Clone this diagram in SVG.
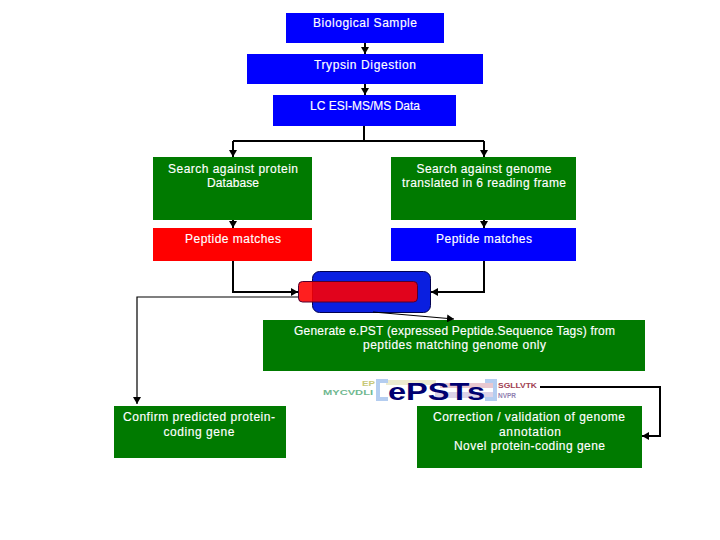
<svg xmlns="http://www.w3.org/2000/svg" width="720" height="540" viewBox="0 0 720 540">
<style>
text{font-family:"Liberation Sans",Arial,sans-serif;font-size:12px;fill:#fff;text-anchor:middle;stroke:#fff;stroke-width:.15}
.b{fill:#0000ff}.g{fill:#007a00}.r{fill:#ff0000}
.c{fill:none;stroke:#000;stroke-width:2}.t{fill:none;stroke:#000;stroke-width:1.2}
.p{font-size:7px;font-weight:bold;text-anchor:start;stroke:none}
</style>
<defs><marker id="a" markerUnits="userSpaceOnUse" markerWidth="8" markerHeight="8" refX="7" refY="4" orient="auto"><path d="M0 0L7 4L0 8z" fill="#000"/></marker></defs>
<rect width="720" height="540" fill="#fff" stroke="none"/>
<g id="n1"><rect class="b" x="286" y="13" width="158" height="30"/><text x="365" y="27" textLength="104">Biological Sample</text></g>
<g id="n2"><rect class="b" x="247" y="54" width="236" height="30"/><text x="365" y="69" textLength="102">Trypsin Digestion</text></g>
<g id="n3"><rect class="b" x="273" y="95" width="183" height="31"/><text x="365" y="110" textLength="110">LC ESI-MS/MS Data</text></g>
<g id="n4"><rect class="g" x="153" y="157" width="159" height="63"/><text x="233" y="173" textLength="130">Search against protein</text><text x="233" y="187" textLength="52">Database</text></g>
<g id="n5"><rect class="g" x="391" y="157" width="185" height="63"/><text x="484" y="173" textLength="135">Search against genome</text><text x="484" y="187" textLength="164">translated in 6 reading frame</text></g>
<g id="n6"><rect class="r" x="153" y="228" width="159" height="33"/><text x="233" y="243" textLength="96">Peptide matches</text></g>
<g id="n7"><rect class="b" x="391" y="228" width="185" height="33"/><text x="484" y="243" textLength="96">Peptide matches</text></g>
<g id="n8"><rect x="312.500" y="271.500" width="118" height="41" rx="7" fill="#0a1fe0" stroke="#000050"/><rect x="298.500" y="281.500" width="119" height="20.500" rx="4" fill="#ff0000" fill-opacity=".88" stroke="#500030"/></g>
<g id="n9"><rect class="g" x="263" y="320" width="382" height="51"/><text x="454.500" y="335" textLength="321">Generate e.PST (expressed Peptide.Sequence Tags) from</text><text x="454.500" y="349" textLength="183">peptides matching genome only</text></g>
<g id="n10"><rect class="g" x="114" y="406" width="172" height="52"/><text x="199" y="421" textLength="152">Confirm predicted protein-</text><text x="199" y="436" textLength="71">coding gene</text></g>
<g id="n11"><rect class="g" x="417" y="406" width="225" height="62"/><text x="529" y="421" textLength="192">Correction / validation of genome</text><text x="530" y="436" textLength="62">annotation</text><text x="529.500" y="450" textLength="151">Novel protein-coding gene</text></g>
<g id="epst">
<rect x="386" y="380" width="50" height="5" fill="#ecebcf"/>
<rect x="440" y="383" width="56" height="5" fill="#e8c8d0"/>
<rect x="435" y="392" width="60" height="6" fill="#dcd4e8"/>
<path d="M388 381h-10v18h10M485 381h10v18h-10" fill="none" stroke="#b4cdf0" stroke-width="4"/>
<text class="p" x="362" y="386" textLength="13" lengthAdjust="spacingAndGlyphs" style="fill:#c8c878">EP</text>
<text class="p" x="323" y="395" textLength="50" lengthAdjust="spacingAndGlyphs" style="fill:#70b890">MYCVDLI</text>
<text class="p" x="498" y="388" textLength="39" lengthAdjust="spacingAndGlyphs" style="fill:#a04050">SGLLVTK</text>
<text class="p" x="498" y="398" textLength="18" lengthAdjust="spacingAndGlyphs" style="fill:#9080b0">NVPR</text>
<text x="436.500" y="400" textLength="97" lengthAdjust="spacingAndGlyphs" style="font-size:23px;font-weight:bold;fill:#000070;stroke:none">ePSTs</text>
</g>
<g id="connectors">
<path class="c" d="M365 43V54" marker-end="url(#a)"/>
<path class="c" d="M365 84V95" marker-end="url(#a)"/>
<path class="c" d="M364 126V141"/>
<path class="c" d="M233 141H484"/>
<path class="c" d="M233 141V157" marker-end="url(#a)"/>
<path class="c" d="M484 141V157" marker-end="url(#a)"/>
<path class="c" d="M233 220V228" marker-end="url(#a)"/>
<path class="c" d="M484 220V228" marker-end="url(#a)"/>
<path class="c" d="M233 261V292H298" marker-end="url(#a)"/>
<path class="c" d="M484 261V292H431" marker-end="url(#a)"/>
<path class="t" d="M298 297H137V404" marker-end="url(#a)"/>
<path class="t" d="M373 312L454 319" marker-end="url(#a)"/>
<path class="c" d="M540 387H660V436H642" marker-end="url(#a)"/>
</g>
</svg>
